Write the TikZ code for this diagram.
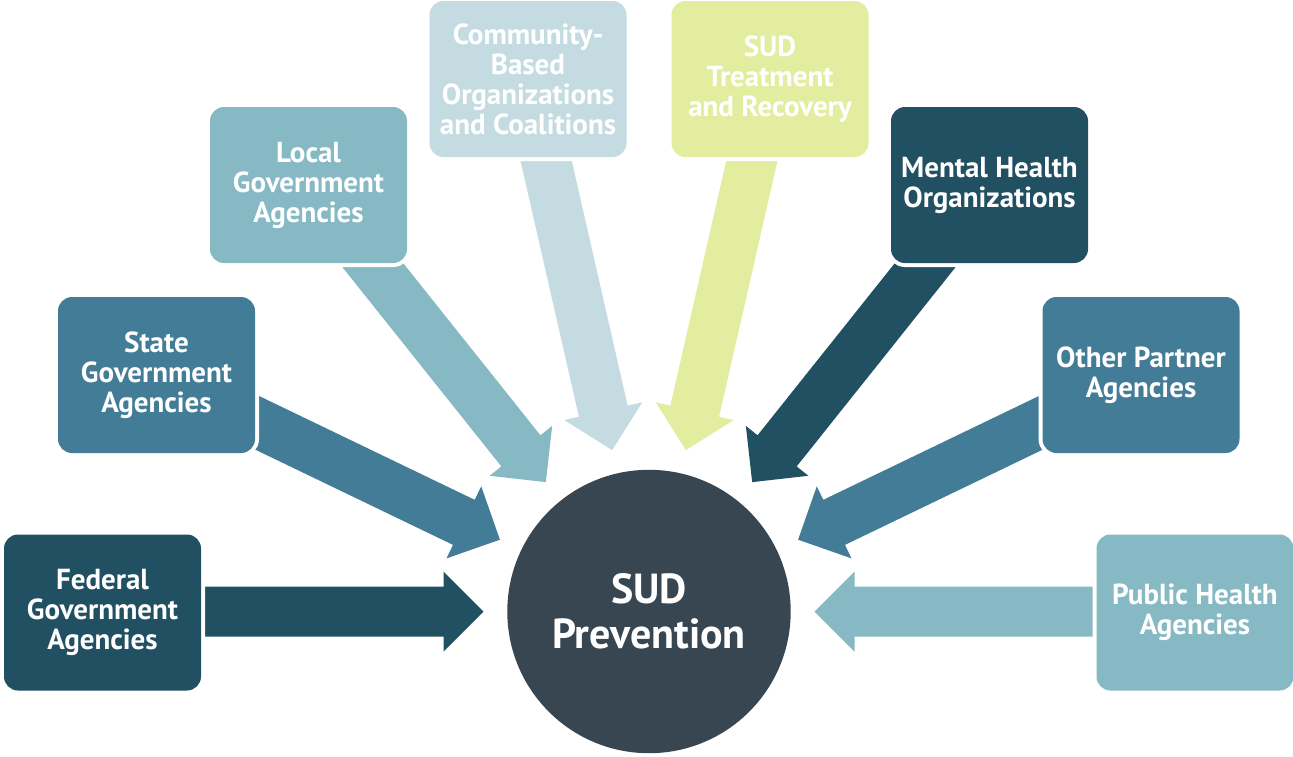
\documentclass[tikz,border=0pt]{standalone}
\usepackage{fontspec}
\setmainfont{PT Sans}
\definecolor{cDark}{HTML}{215062}
\definecolor{cMid}{HTML}{427C96}
\definecolor{cLight}{HTML}{86B9C4}
\definecolor{cPale}{HTML}{C4DCE1}
\definecolor{cLime}{HTML}{E2ED9F}
\definecolor{cCore}{HTML}{374651}
\newcommand\radarrow[2]{%
  \begin{scope}[shift={(c)}, rotate=#1]
    \fill[#2] (-500,-25) -- (-205.5,-25) -- (-205.5,-40) -- (-165.5,0)
      -- (-205.5,40) -- (-205.5,25) -- (-500,25) -- cycle;
  \end{scope}}
\tikzset{
  box/.style={rounded corners=14pt, minimum width=197pt, minimum height=156pt,
    inner sep=0pt, align=center, text=white,
    font=\bfseries\fontsize{29}{30}\selectfont,
    preaction={draw=white, line width=8pt}},
  core/.style={circle, fill=cCore, minimum size=283.4pt, inner sep=0pt,
    align=center, text=white, font=\bfseries\fontsize{42}{45}\selectfont}
}
\begin{document}
\begin{tikzpicture}[x=1pt, y=-1pt]
\useasboundingbox (0,0) rectangle (1293,756);
\coordinate (c) at (649,611.5);
% arrows
\radarrow{0}{cDark}
\radarrow{-25.714}{cMid}
\radarrow{-51.429}{cLight}
\radarrow{-77.143}{cPale}
\radarrow{-102.857}{cLime}
\radarrow{-128.571}{cDark}
\radarrow{-154.286}{cMid}
\radarrow{-180}{cLight}
% boxes
\node[box, fill=cDark]  (fed)   at (102.5,612.5) {Federal\\Government\\Agencies};
\node[box, fill=cMid]   (state) at (156.5,375)   {State\\Government\\Agencies};
\node[box, fill=cLight] (local) at (308.5,185)   {Local\\Government\\Agencies};
\node[box, fill=cPale]  (comm)  at (528,79)      {Community-\\Based\\Organizations\\and Coalitions};
\node[box, fill=cLime]  (treat) at (770,79)      {SUD\\Treatment\\and Recovery};
\node[box, fill=cDark]  (mental) at (989.5,185)  {Mental Health\\Organizations};
\node[box, fill=cMid]   (other) at (1141,375)    {Other Partner\\Agencies};
\node[box, fill=cLight] (public) at (1195,612.5) {Public Health\\Agencies};
% center
\node[core] (sud) at (c) {SUD\\Prevention};
\end{tikzpicture}
\end{document}
